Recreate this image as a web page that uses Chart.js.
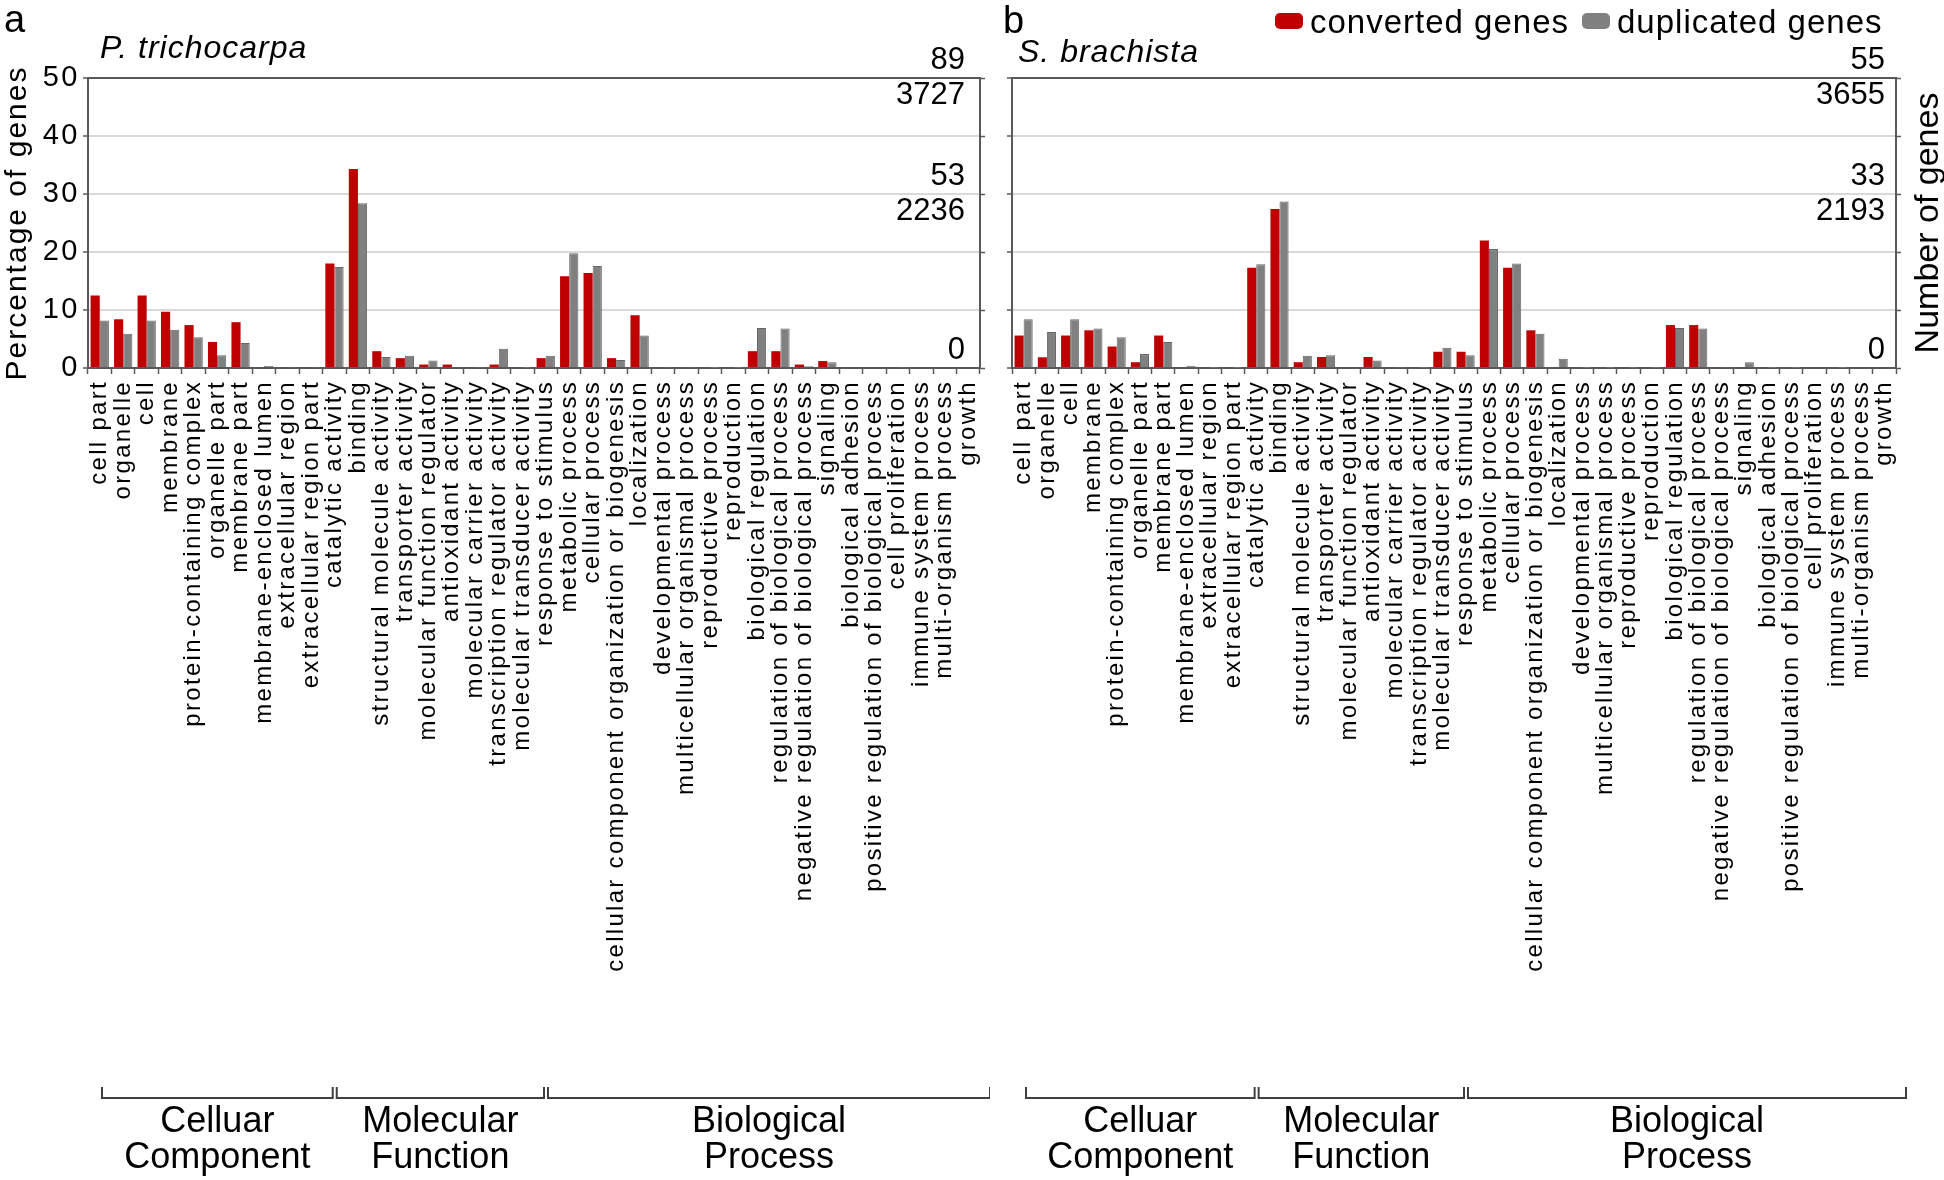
<!DOCTYPE html>
<html><head><meta charset="utf-8">
<script src="https://cdn.jsdelivr.net/npm/chart.js@4/dist/chart.umd.min.js"></script>
<style>
html,body{margin:0;padding:0;background:#fff;}
#wrap{position:relative;width:1944px;height:1180px;overflow:hidden;background:#fff;}
#ca{position:absolute;left:0;top:0;}
#cb{position:absolute;left:990px;top:0;}
</style></head><body>
<div id="wrap">
<canvas id="ca" width="990" height="1180"></canvas>
<canvas id="cb" width="954" height="1180"></canvas>
</div>
<script>
// ---------- DATA ----------
const categories = ['cell part','organelle','cell','membrane','protein-containing complex','organelle part','membrane part','membrane-enclosed lumen','extracellular region','extracellular region part','catalytic activity','binding','structural molecule activity','transporter activity','molecular function regulator','antioxidant activity','molecular carrier activity','transcription regulator activity','molecular transducer activity','response to stimulus','metabolic process','cellular process','cellular component organization or biogenesis','localization','developmental process','multicellular organismal process','reproductive process','reproduction','biological regulation','regulation of biological process','negative regulation of biological process','signaling','biological adhesion','positive regulation of biological process','cell proliferation','immune system process','multi-organism process','growth'];
const groupNames = [['Celluar','Component'],['Molecular','Function'],['Biological','Process']];
const groupRanges = [[0,9],[10,18],[19,37]];
const seriesNames = ['converted genes','duplicated genes'];

const ptConverted  = [12.5,8.4,12.5,9.7,7.4,4.5,7.9,0,0,0,18.0,34.3,2.9,1.7,0.6,0.6,0,0.6,0,1.7,15.8,16.4,1.7,9.1,0,0,0,0,2.9,2.9,0.6,1.2,0,0,0,0,0,0];
const ptDuplicated = [8.2,5.9,8.2,6.6,5.3,2.2,4.3,0.35,0.1,0.1,17.4,28.4,1.9,2.1,1.3,0.15,0.1,3.3,0.05,2.1,19.8,17.6,1.4,5.6,0.1,0.1,0.05,0.05,6.9,6.8,0.3,1.0,0,0,0.1,0,0,0];
const sbConverted  = [5.6,1.85,5.6,6.5,3.7,1.0,5.6,0,0,0,17.3,27.4,1.0,1.9,0,1.9,0,0,2.8,2.8,22.0,17.3,6.5,0,0,0,0,0,7.4,7.4,0,0,0,0,0,0,0,0];
const sbDuplicated = [8.4,6.2,8.4,6.8,5.3,2.4,4.5,0.4,0.05,0.05,17.9,28.7,2.1,2.2,0,1.3,0.1,0.05,3.5,2.2,20.5,18.0,5.9,1.6,0.05,0.05,0.05,0.05,6.9,6.8,0.1,1.0,0.05,0.05,0,0.05,0,0];

const percentMin = 0, percentMax = 50, percentStep = 10;
const countTickValues = [50, 30, 0];
const ptCountLabels = [['89','3727'],['53','2236'],['0','']];
const sbCountLabels = [['55','3655'],['33','2193'],['0','']];

// ---------- STYLE ----------
const FAM = '"Liberation Sans", Arial, Helvetica, sans-serif';
const RED = '#c00000', GRAY = '#808080', AXIS = '#595959', GRID = '#d9d9d9';
Chart.defaults.font.family = FAM;
Chart.defaults.color = '#000';

function spacingPlugin(spec){
  return {
    id: 'spacing',
    afterLayout(chart){
      Object.values(chart.scales).forEach(s => {
        if (s._spWrapped) return;
        const sp = spec[s.id] || {labels: '0px', title: '0px'};
        const dl = s.drawLabels, dt = s.drawTitle;
        s.drawLabels = function(a){ const c = this.ctx; c.save(); c.letterSpacing = sp.labels; dl.call(this, a); c.restore(); };
        s.drawTitle = function(a){ const c = this.ctx; c.save(); c.letterSpacing = sp.title; dt.call(this, a); c.restore(); };
        s._spWrapped = true;
      });
    }
  };
}

const deco = {
  id: 'deco',
  afterDraw(chart, args, o){
    const ctx = chart.ctx, xs = chart.scales.x;
    ctx.save();
    ctx.fillStyle = '#000';
    ctx.textBaseline = 'alphabetic';
    ctx.textAlign = 'left';
    ctx.letterSpacing = '0px';
    ctx.font = '38px ' + FAM;
    ctx.fillText(o.letter, o.letterX, o.letterY);
    ctx.letterSpacing = '1px';
    ctx.font = 'italic 32px ' + FAM;
    ctx.fillText(o.species, o.speciesX, o.speciesY);
    // group brackets
    const half = (xs.getPixelForValue(1) - xs.getPixelForValue(0)) / 2;
    ctx.strokeStyle = '#404040'; ctx.lineWidth = 2;
    ctx.letterSpacing = '0px';
    ctx.font = '36px ' + FAM; ctx.textAlign = 'center';
    groupRanges.forEach((r, i) => {
      const x0 = xs.getPixelForValue(r[0]) - half + 14;
      const x1 = xs.getPixelForValue(r[1]) + half + 10;
      ctx.beginPath();
      ctx.moveTo(x0, 1087); ctx.lineTo(x0, 1098); ctx.lineTo(x1, 1098); ctx.lineTo(x1, 1087);
      ctx.stroke();
      const cx = (x0 + x1) / 2;
      ctx.fillText(groupNames[i][0], cx, 1132);
      ctx.fillText(groupNames[i][1], cx, 1168);
    });
    if (o.legend) {
      const ds = chart.data.datasets;
      ctx.textAlign = 'left';
      ctx.font = '33px ' + FAM; ctx.letterSpacing = '1px';
      o.legend.forEach((L, i) => {
        ctx.fillStyle = ds[i].backgroundColor;
        ctx.beginPath(); ctx.roundRect(L.x, 13, 28, 16, 5); ctx.fill();
        ctx.fillStyle = '#000';
        ctx.fillText(ds[i].label, L.x + 35, 33);
      });
    }
    if (o.rightTitle) {
      ctx.letterSpacing = '0px';
      ctx.font = '34px ' + FAM;
      ctx.translate(o.rightTitleX, (chart.chartArea.top + chart.chartArea.bottom) / 2);
      ctx.rotate(-Math.PI / 2);
      ctx.textAlign = 'center'; ctx.textBaseline = 'middle';
      ctx.fillText(o.rightTitle, 0, 0);
    }
    ctx.restore();
  }
};

function makeChart(id, conv, dup, countLabels, cfg){
  return new Chart(document.getElementById(id), {
    type: 'bar',
    data: {
      labels: categories,
      datasets: [
        {label: seriesNames[0], data: conv, backgroundColor: RED, borderWidth: 0},
        {label: seriesNames[1], data: dup, backgroundColor: GRAY, borderColor: '#666666', borderWidth: {left:1,right:1,top:1,bottom:0}}
      ]
    },
    options: {
      responsive: false, animation: false,
      categoryPercentage: 0.78, barPercentage: 1.0,
      layout: {autoPadding: false, padding: {top: 78, left: 0, right: 0, bottom: 0}},
      plugins: {
        legend: {display: false}, tooltip: {enabled: false},
        deco: cfg.deco
      },
      scales: {
        x: {
          type: 'category', offset: true,
          grid: {display: true, drawOnChartArea: false, drawTicks: true, tickLength: 6, tickColor: AXIS, tickWidth: 1.5, offset: true},
          border: {display: true, color: AXIS, width: 2},
          ticks: {autoSkip: false, minRotation: 90, maxRotation: 90, padding: 6, color: '#000', font: {size: 24, family: FAM}},
          afterFit(s){ s.height = 812; s.paddingLeft = 0; s.paddingRight = 0; }
        },
        y: {
          position: 'left', min: percentMin, max: percentMax,
          ticks: {stepSize: percentStep, display: cfg.leftLabels, padding: 3, color: '#000', font: {size: 29, family: FAM}},
          grid: {
            color: c => (c.tick && c.tick.value === percentMax) ? AXIS : GRID,
            lineWidth: 2, tickColor: AXIS, tickLength: 5, tickWidth: 1.5
          },
          border: {display: true, color: AXIS, width: 2},
          title: {display: cfg.leftLabels, text: 'Percentage of genes', color: '#000', font: {size: 30, family: FAM}, padding: {top: 0, bottom: 0}},
          afterFit(s){ s.width = cfg.leftW; s.paddingTop = 0; s.paddingBottom = 0; }
        },
        y2: {
          position: 'right', min: percentMin, max: percentMax,
          ticks: {
            stepSize: percentStep, mirror: true, autoSkip: false, padding: cfg.rightPad, color: '#000',
            font: {size: 31, family: FAM, lineHeight: 1.12},
            callback: v => { const i = countTickValues.indexOf(v); return i >= 0 ? countLabels[i] : ''; }
          },
          grid: {drawOnChartArea: false, tickColor: AXIS, tickLength: 5, tickWidth: 1.5},
          border: {display: true, color: AXIS, width: 2},
          afterFit(s){ s.width = cfg.rightW; s.paddingTop = 0; s.paddingBottom = 0; }
        }
      }
    },
    plugins: [spacingPlugin({x: {labels: '2.3px', title: '0px'}, y: {labels: '2.5px', title: '2px'}, y2: {labels: '0px', title: '0px'}}), deco]
  });
}

makeChart('ca', ptConverted, ptDuplicated, ptCountLabels, {
  leftLabels: true, leftW: 88, rightW: 10, rightPad: -15,
  deco: {letter: 'a', letterX: 4, letterY: 32, species: 'P. trichocarpa', speciesX: 100, speciesY: 58}
});
makeChart('cb', sbConverted, sbDuplicated, sbCountLabels, {
  leftLabels: false, leftW: 22, rightW: 48, rightPad: -11,
  deco: {letter: 'b', letterX: 13, letterY: 33, species: 'S. brachista', speciesX: 28, speciesY: 62,
         legend: [{x: 285}, {x: 592}], rightTitle: 'Number of genes', rightTitleX: 939}
});
</script>
</body></html>
